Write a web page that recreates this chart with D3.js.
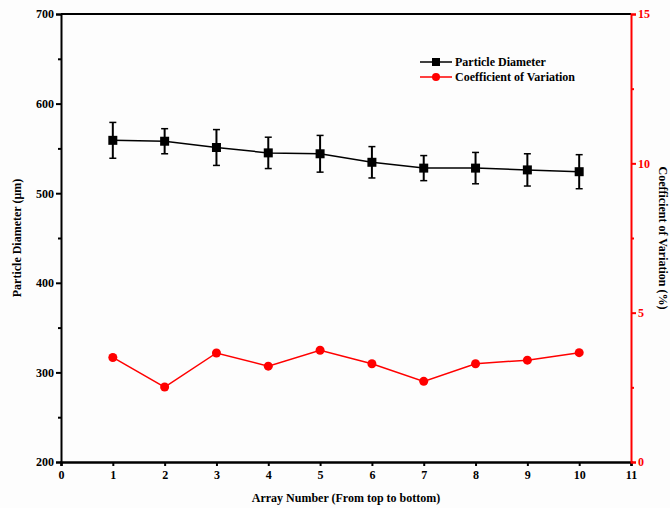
<!DOCTYPE html>
<html>
<head>
<meta charset="utf-8">
<script src="https://cdn.jsdelivr.net/npm/d3@7"></script>
<style>
  body { margin: 0; background: #fdfdfd; }
  text { font-family: "Liberation Serif", "Times New Roman", serif; font-weight: bold; }
</style>
</head>
<body>
<script>
// data
var arrays = [1, 2, 3, 4, 5, 6, 7, 8, 9, 10];
var diameter = [559, 558, 551, 545, 544, 534.5, 528, 528, 526, 524];
var diameterErr = [20, 14, 20, 17.5, 20.5, 17.5, 14, 17.5, 18, 19];
var cv = [3.5, 2.51, 3.65, 3.21, 3.74, 3.29, 2.7, 3.29, 3.41, 3.66];
var xTicks = d3.range(0, 12);
var leftTicks = [200, 300, 400, 500, 600, 700];
var rightTicks = [0, 5, 10, 15];

var W = 670, H = 508;
var m = { left: 61, right: 39, top: 14, bottom: 46 };

var svg = d3.select("body").append("svg")
  .attr("width", W)
  .attr("height", H);

var x = d3.scaleLinear().domain([0, 11]).range([m.left, W - m.right]);
var yL = d3.scaleLinear().domain([200, 700]).range([H - m.bottom, m.top]);
var yR = d3.scaleLinear().domain([0, 15]).range([H - m.bottom, m.top]);

// top border
svg.append("line")
  .attr("x1", m.left).attr("x2", W - m.right)
  .attr("y1", m.top).attr("y2", m.top)
  .attr("stroke", "#000").attr("stroke-width", 2);

// x axis
var gx = svg.append("g")
  .attr("transform", "translate(0," + (H - m.bottom) + ")")
  .call(d3.axisBottom(x).tickValues(xTicks).tickFormat(d3.format("d")).tickSize(4).tickPadding(4));

// left axis, major + minor
var gl = svg.append("g")
  .attr("transform", "translate(" + m.left + ",0)")
  .call(d3.axisLeft(yL).tickValues(leftTicks).tickSize(5).tickPadding(2));
svg.append("g")
  .attr("transform", "translate(" + m.left + ",0)")
  .call(d3.axisLeft(yL).tickValues([250, 350, 450, 550, 650]).tickSize(3).tickFormat(""))
  .select(".domain").remove();

// right axis, red
var gr = svg.append("g")
  .attr("transform", "translate(" + (W - m.right) + ",0)")
  .call(d3.axisRight(yR).tickValues(rightTicks).tickSize(5).tickPadding(2));
svg.append("g")
  .attr("class", "minorR")
  .attr("transform", "translate(" + (W - m.right) + ",0)")
  .call(d3.axisRight(yR).tickValues([2.5, 7.5, 12.5]).tickSize(3).tickFormat(""))
  .select(".domain").remove();

[gx, gl].forEach(function(g) {
  g.selectAll("path, line").attr("stroke", "#000").attr("stroke-width", 2);
  g.selectAll("text").attr("fill", "#000").style("font-size", "12px");
});
svg.selectAll("g").filter(function() { return !this.classList.contains("minorR"); })
  .selectAll("line").attr("stroke-width", 2);
gr.selectAll("path, line").attr("stroke", "#f00").attr("stroke-width", 2);
gr.selectAll("text").attr("fill", "#f00").style("font-size", "12px");
svg.select(".minorR").selectAll("line").attr("stroke", "#f00").attr("stroke-width", 2);
gx.select(".domain").attr("stroke-width", 2.5);

// axis titles
svg.append("text")
  .attr("x", (m.left + W - m.right) / 2).attr("y", 502)
  .attr("text-anchor", "middle").style("font-size", "12px")
  .text("Array Number (From top to bottom)");
svg.append("text")
  .attr("transform", "translate(21," + ((m.top + H - m.bottom) / 2) + ") rotate(-90)")
  .attr("text-anchor", "middle").style("font-size", "12px")
  .text("Particle Diameter (\u03bcm)");
svg.append("text")
  .attr("transform", "translate(659," + ((m.top + H - m.bottom) / 2) + ") rotate(90)")
  .attr("text-anchor", "middle").style("font-size", "12px")
  .text("Coefficient of Variation (%)");

// particle diameter series
var lineL = d3.line().x(function(d, i) { return x(arrays[i]); }).y(function(d) { return yL(d); });
svg.append("path").datum(diameter)
  .attr("d", lineL).attr("fill", "none").attr("stroke", "#000").attr("stroke-width", 1.5);

var eb = svg.append("g").selectAll("g").data(diameter).enter().append("g");
eb.append("line")
  .attr("x1", function(d, i) { return x(arrays[i]); })
  .attr("x2", function(d, i) { return x(arrays[i]); })
  .attr("y1", function(d, i) { return yL(d + diameterErr[i]); })
  .attr("y2", function(d, i) { return yL(d - diameterErr[i]); })
  .attr("stroke", "#000").attr("stroke-width", 2);
[1, -1].forEach(function(s) {
  eb.append("line")
    .attr("x1", function(d, i) { return x(arrays[i]) - 3.5; })
    .attr("x2", function(d, i) { return x(arrays[i]) + 3.5; })
    .attr("y1", function(d, i) { return yL(d + s * diameterErr[i]); })
    .attr("y2", function(d, i) { return yL(d + s * diameterErr[i]); })
    .attr("stroke", "#000").attr("stroke-width", 1.5);
});
svg.append("g").selectAll("rect").data(diameter).enter().append("rect")
  .attr("x", function(d, i) { return x(arrays[i]) - 4.5; })
  .attr("y", function(d) { return yL(d) - 4.5; })
  .attr("width", 9).attr("height", 9).attr("fill", "#000");

// coefficient of variation series
var lineR = d3.line().x(function(d, i) { return x(arrays[i]); }).y(function(d) { return yR(d); });
svg.append("path").datum(cv)
  .attr("d", lineR).attr("fill", "none").attr("stroke", "#f00").attr("stroke-width", 1.5);
svg.append("g").selectAll("circle").data(cv).enter().append("circle")
  .attr("cx", function(d, i) { return x(arrays[i]); })
  .attr("cy", function(d) { return yR(d); })
  .attr("r", 4.5).attr("fill", "#f00");

// legend
var legend = [
  { label: "Particle Diameter", color: "#000", shape: "square" },
  { label: "Coefficient of Variation", color: "#f00", shape: "circle" }
];
var lg = svg.append("g").selectAll("g").data(legend).enter().append("g")
  .attr("transform", function(d, i) { return "translate(420," + (62 + i * 15) + ")"; });
lg.append("line").attr("x1", 0).attr("x2", 32).attr("stroke", function(d) { return d.color; }).attr("stroke-width", 1.5);
lg.filter(function(d) { return d.shape === "square"; }).append("rect")
  .attr("x", 12).attr("y", -4).attr("width", 8).attr("height", 8).attr("fill", "#000");
lg.filter(function(d) { return d.shape === "circle"; }).append("circle")
  .attr("cx", 16).attr("r", 4).attr("fill", "#f00");
lg.append("text").attr("x", 35).attr("dy", "0.35em").style("font-size", "12px")
  .text(function(d) { return d.label; });
</script>
</body>
</html>
